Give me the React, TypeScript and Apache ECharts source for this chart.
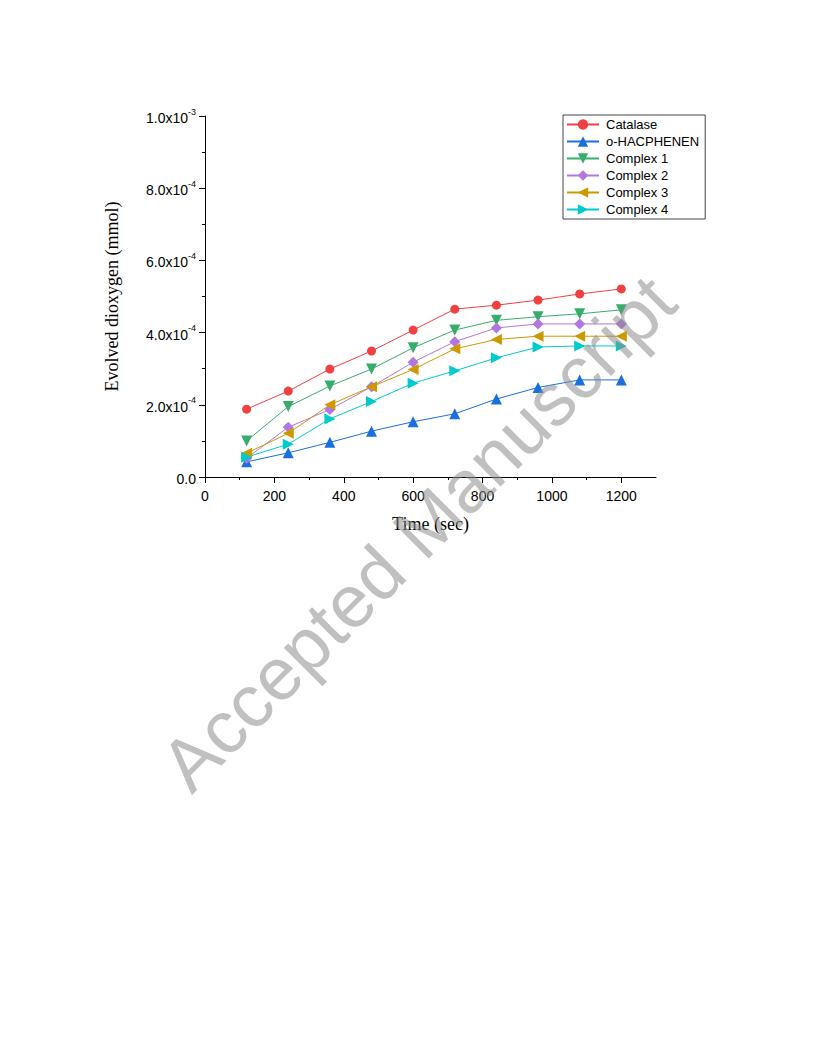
import React, { useEffect, useRef } from "react";
import * as echarts from "echarts";

const timeSec = [120, 240, 360, 480, 600, 720, 840, 960, 1080, 1200];
const catalase = [1.88e-4, 2.38e-4, 2.99e-4, 3.49e-4, 4.07e-4, 4.65e-4, 4.76e-4, 4.9e-4, 5.07e-4, 5.21e-4];
const hacphenen = [0.42e-4, 0.67e-4, 0.96e-4, 1.27e-4, 1.53e-4, 1.75e-4, 2.16e-4, 2.48e-4, 2.69e-4, 2.69e-4];
const complex1 = [1.0e-4, 1.95e-4, 2.52e-4, 2.99e-4, 3.58e-4, 4.07e-4, 4.34e-4, 4.44e-4, 4.52e-4, 4.63e-4];
const complex2 = [0.52e-4, 1.38e-4, 1.87e-4, 2.5e-4, 3.18e-4, 3.75e-4, 4.13e-4, 4.24e-4, 4.24e-4, 4.24e-4];
const complex3 = [0.66e-4, 1.21e-4, 2.0e-4, 2.5e-4, 2.98e-4, 3.55e-4, 3.81e-4, 3.9e-4, 3.9e-4, 3.9e-4];
const complex4 = [0.55e-4, 0.91e-4, 1.61e-4, 2.09e-4, 2.6e-4, 2.94e-4, 3.3e-4, 3.6e-4, 3.63e-4, 3.63e-4];

const seriesNames = ["Catalase", "o-HACPHENEN", "Complex 1", "Complex 2", "Complex 3", "Complex 4"];
const seriesValues = [catalase, hacphenen, complex1, complex2, complex3, complex4];
const seriesColors = ["#F14040", "#1A6FDF", "#37AD6B", "#B177DE", "#CC9900", "#00CBCC"];
const seriesSymbols = ["circle", "triangle", "triangle", "diamond", "triangle", "triangle"];
const seriesRotate = [0, 0, 180, 0, 90, -90];
const seriesSizes = [9, 11, 11, 11, 11, 11];

const xMajorTicks = [0, 200, 400, 600, 800, 1000, 1200];

const SANS = '"Liberation Sans", Arial, sans-serif';
const SERIF = '"Liberation Serif", "Times New Roman", serif';

function yLabel(v: number): string {
  if (Math.abs(v) < 1e-12) return "{a|0.0}";
  const exp = Math.floor(Math.log10(v) + 1e-9);
  const mant = v / Math.pow(10, exp);
  return `{a|${mant.toFixed(1)}x10}{b|${exp}}`;
}

export default function App() {
  const ref = useRef<HTMLDivElement>(null);
  useEffect(() => {
    document.body.style.margin = "0";
    const chart = echarts.init(ref.current!, null, { renderer: "svg" });
    const option: any = {
      animation: false,
      backgroundColor: "#ffffff",
      grid: { left: 205, right: 160, top: 116, bottom: 579, containLabel: false },
      legend: {
        orient: "vertical",
        left: 563,
        top: 115,
        width: 144,
        padding: [3, 6, 3, 3],
        itemWidth: 32,
        itemHeight: 13,
        itemGap: 4,
        borderColor: "#444",
        borderWidth: 1,
        backgroundColor: "#fff",
        textStyle: { fontFamily: SANS, fontSize: 13, color: "#000", padding: [0, 0, 0, 2] },
        data: seriesNames,
      },
      xAxis: [
        {
          type: "value",
          min: 0,
          max: 1300,
          interval: 100,
          name: "Time (sec)",
          nameLocation: "middle",
          nameGap: 38,
          nameTextStyle: { fontFamily: SERIF, fontSize: 18, color: "#000" },
          axisLine: { show: true, lineStyle: { color: "#000", width: 1 } },
          axisTick: { show: true, inside: false, length: 3, lineStyle: { color: "#000" } },
          axisLabel: {
            show: true,
            margin: 12,
            fontFamily: SANS,
            fontSize: 14,
            color: "#000",
            showMaxLabel: false,
            formatter: (v: number) => (xMajorTicks.indexOf(Math.round(v)) >= 0 ? String(Math.round(v)) : ""),
          },
          splitLine: { show: false },
        },
        {
          type: "value",
          min: 0,
          max: 1300,
          interval: 200,
          position: "bottom",
          axisLine: { show: false },
          axisTick: { show: true, inside: false, length: 6, lineStyle: { color: "#000" }, customValues: xMajorTicks },
          axisLabel: { show: false },
          splitLine: { show: false },
        },
      ],
      yAxis: {
        type: "value",
        min: 0,
        max: 1e-3,
        interval: 2e-4,
        name: "Evolved dioxygen (mmol)",
        nameLocation: "middle",
        nameGap: 84,
        nameRotate: 90,
        nameTextStyle: { fontFamily: SERIF, fontSize: 18, color: "#000" },
        axisLine: { show: true, lineStyle: { color: "#000", width: 1 } },
        axisTick: { show: true, inside: false, length: 6, lineStyle: { color: "#000" } },
        minorTick: { show: true, splitNumber: 2, length: 3, lineStyle: { color: "#000" } },
        axisLabel: {
          margin: 9,
          formatter: yLabel,
          rich: {
            a: { fontFamily: SANS, fontSize: 14, color: "#000", lineHeight: 18, verticalAlign: "bottom" },
            b: { fontFamily: SANS, fontSize: 9, color: "#000", lineHeight: 18, verticalAlign: "top", padding: [0, 0, 0, 0] },
          },
        },
        splitLine: { show: false },
      },
      graphic: [
        {
          type: "text",
          x: 418,
          y: 533,
          rotation: (45 * Math.PI) / 180,
          z: 100,
          silent: true,
          style: {
            text: "Accepted Manuscript",
            font: `74px ${SANS}`,
            fill: "rgba(140,140,140,0.55)",
            align: "center",
            verticalAlign: "middle",
            textAlign: "center",
            textVerticalAlign: "middle",
          },
        },
      ],
      series: seriesNames.map((name, i) => ({
        name,
        type: "line",
        xAxisIndex: 0,
        data: timeSec.map((t, j) => [t, seriesValues[i][j]]),
        symbol: seriesSymbols[i],
        symbolSize: seriesSizes[i],
        symbolRotate: seriesRotate[i],
        showAllSymbol: true,
        color: seriesColors[i],
        itemStyle: { color: seriesColors[i] },
        lineStyle: { color: seriesColors[i], width: 1 },
      })),
    };
    chart.setOption(option);
    return () => chart.dispose();
  }, []);
  return <div ref={ref} style={{ width: 816, height: 1056 }} />;
}
